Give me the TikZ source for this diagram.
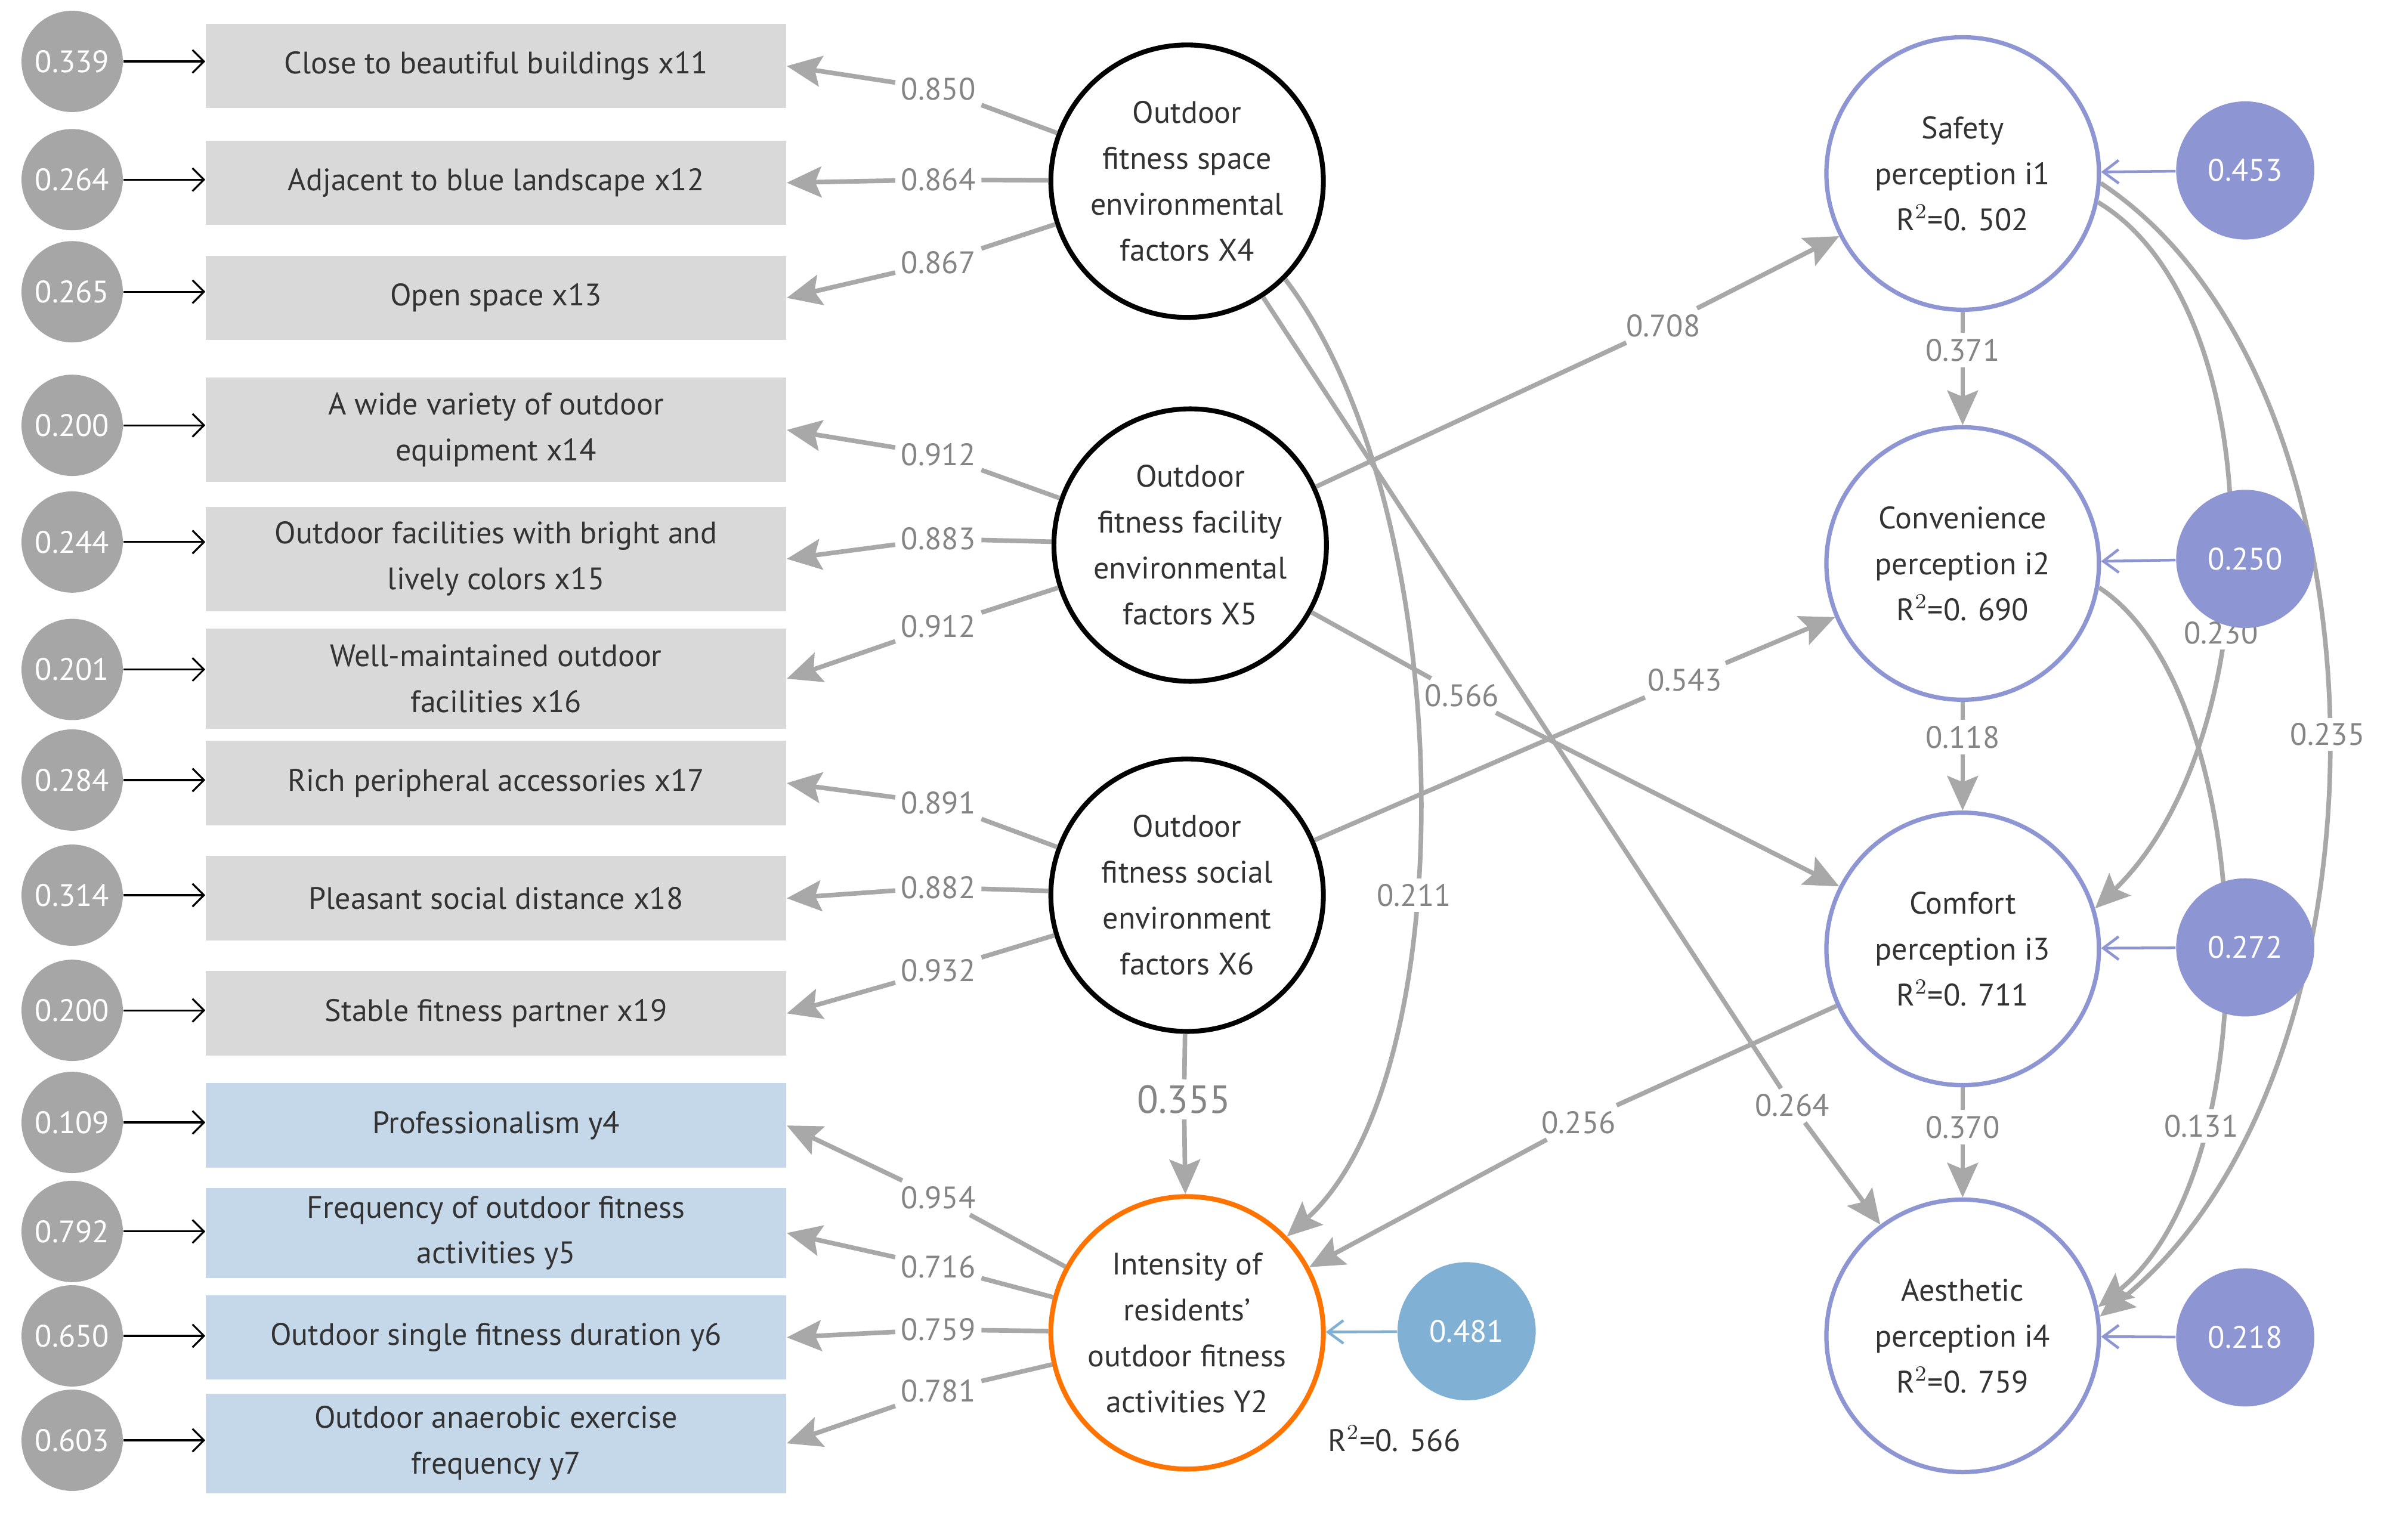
\documentclass[tikz,border=0pt]{standalone}
\usepackage{fontspec}
\setmainfont{PT Sans}
\usetikzlibrary{arrows.meta}
\definecolor{gbox}{HTML}{D9D9D9}
\definecolor{bbox}{HTML}{C4D8EA}
\definecolor{gcirc}{HTML}{A6A6A6}
\definecolor{pur}{HTML}{8D95D2}
\definecolor{lblue}{HTML}{80B0D4}
\definecolor{ln}{HTML}{A8A8A8}
\definecolor{txt}{HTML}{333333}
\definecolor{lab}{HTML}{858585}
\begin{document}
\begin{tikzpicture}[x=0.02cm,y=-0.02cm,
  font=\fontsize{11.5}{17}\selectfont, text=txt,
  box/.style={rectangle,fill=gbox,minimum width=7.56cm,minimum height=1.1cm,align=center,inner sep=2pt},
  bx2/.style={box,minimum height=1.36cm},
  err/.style={circle,fill=gcirc,minimum size=1.32cm,inner sep=0pt,text=white},
  big/.style={circle,draw=black,line width=1.8pt,minimum size=3.55cm,inner sep=0pt,align=center},
  rc/.style={circle,draw=pur,line width=1.6pt,minimum size=3.55cm,inner sep=0pt,align=center},
  pe/.style={circle,fill=pur,minimum size=1.8cm,inner sep=0pt,text=white},
  lab/.style={text=lab,fill=white,inner sep=2pt},
  ld/.style={draw=ln,line width=1.7pt},
  ar/.style={ld,-{Stealth[length=0.45cm,width=0.4cm,inset=0.08cm]}},
  ea/.style={draw=black,line width=0.7pt,-{Straight Barb[length=0.15cm]}},
  pa/.style={draw=pur,line width=1pt,-{Straight Barb[length=0.2cm,width=0.3cm]}}]
\useasboundingbox (0,0) rectangle (1568,987);
% boxes
\node[box] (b11) at (323,43) {Close to beautiful buildings x11};
\node[box] (b12) at (323,119) {Adjacent to blue landscape x12};
\node[box] (b13) at (323,194) {Open space x13};
\node[bx2] (b14) at (323,280) {A wide variety of outdoor\\equipment x14};
\node[bx2] (b15) at (323,364) {Outdoor facilities with bright and\\lively colors x15};
\node[bx2,minimum height=1.3cm] (b16) at (323,442) {Well-maintained outdoor\\facilities x16};
\node[box] (b17) at (323,510) {Rich peripheral accessories x17};
\node[box] (b18) at (323,585) {Pleasant social distance x18};
\node[box] (b19) at (323,660) {Stable fitness partner x19};
\node[box,fill=bbox] (y4) at (323,733) {Professionalism y4};
\node[box,fill=bbox,minimum height=1.18cm] (y5) at (323,803) {Frequency of outdoor fitness\\activities y5};
\node[box,fill=bbox] (y6) at (323,871) {Outdoor single fitness duration y6};
\node[bx2,fill=bbox,minimum height=1.3cm] (y7) at (323,940) {Outdoor anaerobic exercise\\frequency y7};
% error circles
\foreach \n/\y/\v/\b in {e11/40/0.339/b11,e12/117/0.264/b12,e13/190/0.265/b13,e14/277/0.200/b14,e15/353/0.244/b15,e16/436/0.201/b16,e17/508/0.284/b17,e18/583/0.314/b18,e19/658/0.200/b19,ey4/731/0.109/y4,ey5/802/0.792/y5,ey6/870/0.650/y6,ey7/938/0.603/y7}{
  \node[err] (\n) at (47,\y) {\v};
  \draw[ea] (\n.east) -- (\n.east -| \b.west);
}
% latent
\node[big] (X4) at (773,118) {Outdoor\\fitness space\\environmental\\factors X4};
\node[big] (X5) at (775,355) {Outdoor\\fitness facility\\environmental\\factors X5};
\node[big] (X6) at (773,583) {Outdoor\\fitness social\\environment\\factors X6};
\node[big,draw=orange!90!red] (Y2) at (773,868) {Intensity of\\residents'\\outdoor fitness\\activities Y2};
\node (r2y) at (908,937) {R$^2$=0. 566};
\node[rc] (i1) at (1278,113) {Safety\\perception i1\\R$^2$=0. 502};
\node[rc] (i2) at (1278,367) {Convenience\\perception i2\\R$^2$=0. 690};
\node[rc] (i3) at (1278,618) {Comfort\\perception i3\\R$^2$=0. 711};
\node[rc] (i4) at (1278,870) {Aesthetic\\perception i4\\R$^2$=0. 759};
% loadings
\foreach \L/\t/\y/\v/\b in {X4/l11/58/0.850/b11,X4/l12/117/0.864/b12,X4/l13/171/0.867/b13,
  X5/l14/296/0.912/b14,X5/l15/351/0.883/b15,X5/l16/408/0.912/b16,
  X6/l17/523/0.891/b17,X6/l18/578/0.882/b18,X6/l19/632/0.932/b19,
  Y2/ly4/780/0.954/y4,Y2/ly5/825/0.716/y5,Y2/ly6/866/0.759/y6,Y2/ly7/906/0.781/y7}{
  \node[lab] (\t) at (611,\y) {\v};
  \draw[ld] (\L) -- (\t);
  \draw[ar] (\t) -- (\b.east);
}
% right-side curves (behind error circles)
\draw[ar] (i1.-12) .. controls (1480,200) and (1480,480) .. (i3.17) node[lab,pos=0.62] {0.230};
\draw[ar] (i2.-10) .. controls (1470,450) and (1480,760) .. (i4.12) node[lab,pos=0.72] {0.131};
\draw[ar] (i1.-4) .. controls (1565,250) and (1565,700) .. (i4.8) node[lab,pos=0.5] {0.235};
% error circles right
\foreach \n/\y/\v/\t in {p1/111/0.453/i1,p2/364/0.250/i2,p3/617/0.272/i3,p4/871/0.218/i4}{
  \node[pe] (\n) at (1462,\y) {\v};
  \draw[pa] (\n) -- (\t);
}
\node[pe,fill=lblue] (py) at (955,867) {0.481};
\draw[pa,draw=lblue] (py) -- (Y2);
% structural paths
\node[lab] (s1) at (1083,212) {0.708};
\draw[ld] (X5) -- (s1); \draw[ar] (s1) -- (i1);
\node[lab] (s2) at (1097,443) {0.543};
\draw[ld] (X6) -- (s2); \draw[ar] (s2) -- (i2);
\node[lab] (s3) at (952,453) {0.566};
\draw[ld] (X5) -- (s3); \draw[ar] (s3) -- (i3);
\node[lab] (s4) at (1167,720) {0.264};
\draw[ld] (X4) -- (s4); \draw[ar] (s4) -- (i4);
\node[lab] (s5) at (1028,731) {0.256};
\draw[ld] (i3) -- (s5); \draw[ar] (s5) -- (Y2);
\draw[ar] (X4.-45) .. controls (950,330) and (955,700) .. (Y2.44) node[lab,pos=0.6] {0.211};
\node[lab,font=\fontsize{14.5}{17}\selectfont] (s6) at (771,716) {0.355};
\draw[ld] (X6) -- (s6); \draw[ar] (s6) -- (Y2);
\node[lab] (s7) at (1278,228) {0.371};
\draw[ld] (i1) -- (s7); \draw[ar] (s7) -- (i2);
\node[lab] (s8) at (1278,480) {0.118};
\draw[ld] (i2) -- (s8); \draw[ar] (s8) -- (i3);
\node[lab] (s9) at (1278,734) {0.370};
\draw[ld] (i3) -- (s9); \draw[ar] (s9) -- (i4);
\end{tikzpicture}
\end{document}
